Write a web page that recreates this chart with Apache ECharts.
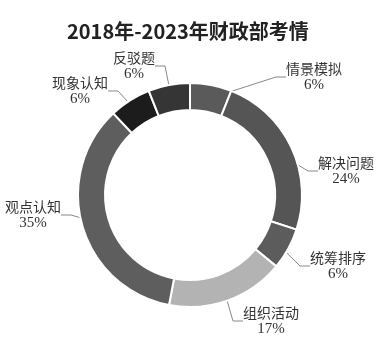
<!DOCTYPE html>
<html><head><meta charset="utf-8">
<script src="https://cdn.jsdelivr.net/npm/echarts@6/dist/echarts.min.js"></script>
<style>html,body{margin:0;padding:0;background:#fff}#c{width:382px;height:355px}</style>
</head><body><div id="c"></div>
<script>
const titleText = '2018年-2023年财政部考情';
const categories = ['情景模拟','解决问题','统筹排序','组织活动','观点认知','现象认知','反驳题'];
const values = [6,24,6,17,35,6,6];
const colors = ['#5a5a5a','#555555','#5c5c5c','#b3b3b3','#5e5e5e','#1c1c1c','#353535'];
// label block centres (layout only)
const labelSpots = [[314,77],[346,171],[338,266],[271,321],[33,215],[80,91],[134,66]];

const chart = echarts.init(document.getElementById('c'), null, {renderer:'canvas'});
const base = {
  type:'pie', center:[190,195], startAngle:90, clockwise:true, percentPrecision:0
};
chart.setOption({
  animation:false,
  title:{text:titleText,left:62,top:16,textStyle:{fontFamily:'Noto Sans CJK SC',fontWeight:'bold',fontSize:20,color:'#222'}},
  series:[
    Object.assign({}, base, {
      radius:[85,112],
      silent:true,
      itemStyle:{borderColor:'#fff',borderWidth:2},
      label:{show:false}, labelLine:{show:false},
      data: categories.map((n,i)=>({name:n,value:values[i],itemStyle:{color:colors[i]}}))
    }),
    Object.assign({}, base, {
      radius:[0,98],
      silent:true,
      itemStyle:{color:'rgba(0,0,0,0)',borderWidth:0},
      label:{
        formatter:'{b}\n{p|{d}%}',
        fontFamily:'Noto Sans CJK SC',fontSize:14,color:'#333',lineHeight:17,align:'center',
        overflow:'none',
        rich:{p:{fontFamily:'Liberation Serif',fontSize:15,color:'#333',lineHeight:17}}
      },
      labelLine:{show:true,length:10,length2:10,lineStyle:{color:'#888',width:1}},
      labelLayout:function(p){
        const s = labelSpots[p.dataIndex];
        return {x:s[0], y:s[1], align:'center', verticalAlign:'middle'};
      },
      data: categories.map((n,i)=>({name:n,value:values[i]}))
    })
  ]
});
</script></body></html>
